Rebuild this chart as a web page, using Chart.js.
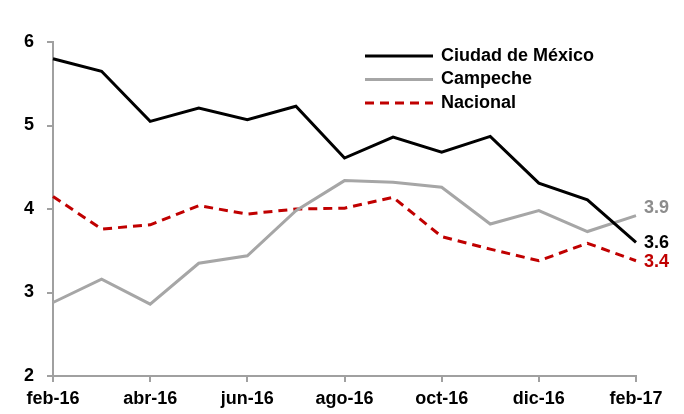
<!DOCTYPE html>
<html>
<head>
<meta charset="utf-8">
<script src="https://cdn.jsdelivr.net/npm/chart.js@4.4.1/dist/chart.umd.min.js"></script>
<style>
  body { margin: 0; background: #fff; }
  #wrap { width: 684px; height: 414px; }
</style>
</head>
<body>
<div id="wrap"><canvas id="grafica"></canvas></div>
<script>
// Meses (feb-16 a feb-17)
const meses = ['feb-16', 'mar-16', 'abr-16', 'may-16', 'jun-16', 'jul-16', 'ago-16',
               'sep-16', 'oct-16', 'nov-16', 'dic-16', 'ene-17', 'feb-17'];
const cdmx     = [5.80, 5.65, 5.05, 5.21, 5.07, 5.23, 4.61, 4.86, 4.68, 4.87, 4.31, 4.11, 3.60];
const campeche = [2.88, 3.16, 2.86, 3.35, 3.44, 3.98, 4.34, 4.32, 4.26, 3.82, 3.98, 3.73, 3.92];
const nacional = [4.15, 3.76, 3.81, 4.04, 3.94, 4.00, 4.01, 4.14, 3.67, 3.52, 3.38, 3.59, 3.38];
const ticksY = [2, 3, 4, 5, 6];

const fuente = "'Liberation Sans Narrow', 'Arial Narrow', 'Liberation Sans', sans-serif";
const gris = '#a0a0a0';

// leyenda dentro del área y etiquetas del último valor
const extras = {
    id: 'extras',
    afterDatasetsDraw(chart) {
        const ctx = chart.ctx;
        const x = chart.scales.x, y = chart.scales.y;
        const desfase = [1, -8, 1];  // para que no se encimen las etiquetas
        ctx.save();
        ctx.font = 'bold 18px ' + fuente;
        ctx.textBaseline = 'middle';
        chart.data.datasets.forEach((ds, i) => {
            const yy = 56 + i * 23.5;
            ctx.strokeStyle = ds.borderColor;
            ctx.lineWidth = 3;
            ctx.setLineDash(ds.borderDash || []);
            ctx.beginPath();
            ctx.moveTo(365, yy);
            ctx.lineTo(433, yy);
            ctx.stroke();
            ctx.setLineDash([]);
            ctx.fillStyle = '#000';
            ctx.textAlign = 'left';
            ctx.fillText(ds.label, 441, yy);

            // valor final
            const n = ds.data.length - 1;
            const v = ds.data[n];
            const py = y.getPixelForValue(v) + desfase[i];
            ctx.fillStyle = ds.etiqueta;
            ctx.fillText(v.toFixed(1), x.getPixelForValue(n) + 8, py);
        });
        ctx.restore();
    }
};

new Chart(document.getElementById('grafica'), {
    type: 'line',
    data: {
        labels: meses,
        datasets: [{
            label: 'Ciudad de México',
            data: cdmx,
            borderColor: '#000000',
            etiqueta: '#000000',
            borderWidth: 3,
            pointRadius: 0,
            tension: 0
        }, {
            label: 'Campeche',
            data: campeche,
            borderColor: '#a6a6a6',
            etiqueta: '#8c8c8c',
            borderWidth: 3,
            pointRadius: 0,
            tension: 0
        }, {
            label: 'Nacional',
            data: nacional,
            borderColor: '#c00000',
            etiqueta: '#c00000',
            borderWidth: 3,
            borderDash: [9, 6],
            pointRadius: 0,
            tension: 0
        }]
    },
    options: {
        responsive: true,
        maintainAspectRatio: false,
        animation: false,
        layout: { padding: { top: 42, right: 48, left: 0, bottom: 0 } },
        plugins: {
            legend: { display: false },
            tooltip: { enabled: false }
        },
        scales: {
            x: {
                offset: false,
                afterFit(s) { s.height = 38; },
                border: { color: gris, width: 2 },
                grid: {
                    drawOnChartArea: false,
                    tickLength: 6,
                    lineWidth: 2,
                    color: (c) => (c.index % 2 === 0 ? gris : 'rgba(0,0,0,0)')
                },
                ticks: {
                    autoSkip: false,
                    maxRotation: 0,
                    padding: 6,
                    color: '#000',
                    font: { family: fuente, size: 18, weight: 'bold' },
                    callback: (v, i) => (i % 2 === 0 ? meses[i] : '')
                }
            },
            y: {
                min: 2,
                max: 6,
                afterFit(s) { s.width = 53; },
                afterBuildTicks(s) { s.ticks = ticksY.map(v => ({ value: v })); },
                border: { color: gris, width: 2 },
                grid: { drawOnChartArea: false, tickLength: 6, lineWidth: 2, color: gris },
                ticks: {
                    padding: 13,
                    color: '#000',
                    font: { family: fuente, size: 18, weight: 'bold' }
                }
            }
        }
    },
    plugins: [extras]
});
</script>
</body>
</html>
